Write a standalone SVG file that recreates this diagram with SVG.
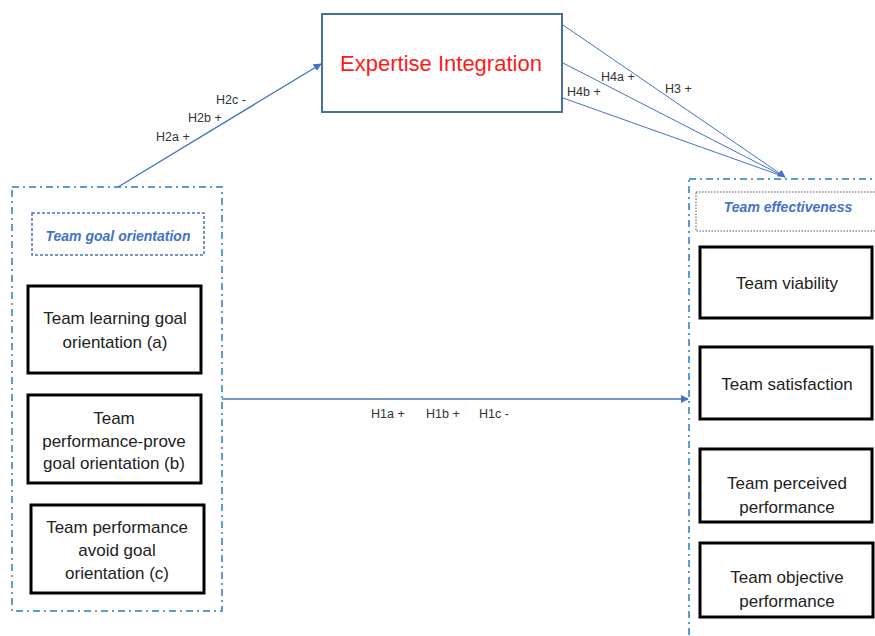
<svg xmlns="http://www.w3.org/2000/svg" width="875" height="636" viewBox="0 0 875 636">
<defs>
<style>
.node{fill:#fff;stroke:#000;stroke-width:3}
.t{font-family:"Liberation Sans",Arial,sans-serif;font-size:17px;fill:#222;text-anchor:middle}
.lbl{font-family:"Liberation Sans",Arial,sans-serif;font-size:12.5px;fill:#333}
.grp{fill:none;stroke:#5b9bd5;stroke-width:2;stroke-dasharray:7 4 2 4}
.hdr{font-family:"Liberation Sans",Arial,sans-serif;font-size:14px;font-weight:bold;font-style:italic;fill:#4472c4;text-anchor:middle}
.c{fill:none;stroke:#4472c4;stroke-width:1.3}
.cthin{fill:none;stroke:#4472c4;stroke-width:1}
</style>
<marker id="ah" viewBox="0 0 10 10" refX="9" refY="5" markerWidth="8" markerHeight="8" markerUnits="userSpaceOnUse" orient="auto">
<path d="M0,0 L10,5 L0,10 z" fill="#4472c4"/>
</marker>
</defs>
<rect width="875" height="636" fill="#fff"/>

<g id="goal-orientation-group">
<rect class="grp" x="12" y="187" width="210" height="424"/>
<rect x="32" y="213" width="172" height="42" fill="none" stroke="#4472c4" stroke-width="1.5" stroke-dasharray="3 2"/>
<text class="hdr" x="118" y="241">Team goal orientation</text>
</g>
<g id="learning">
<rect class="node" x="28" y="286" width="173" height="87"/>
<text class="t" x="115" y="324">Team learning goal</text>
<text class="t" x="115" y="348">orientation (a)</text>
</g>
<g id="prove">
<rect class="node" x="28" y="395" width="173" height="88"/>
<text class="t" x="114" y="424">Team</text>
<text class="t" x="114" y="447">performance-prove</text>
<text class="t" x="114" y="469">goal orientation (b)</text>
</g>
<g id="avoid">
<rect class="node" x="31" y="505" width="173" height="88"/>
<text class="t" x="117" y="533">Team performance</text>
<text class="t" x="117" y="556">avoid goal</text>
<text class="t" x="117" y="579">orientation (c)</text>
</g>

<g id="expertise">
<rect x="322" y="14" width="240" height="98" fill="#fff" stroke="#4a6fa5" stroke-width="2"/>
<text x="441" y="71" font-family="'Liberation Sans',Arial,sans-serif" font-size="22px" fill="#ff1a1a" text-anchor="middle">Expertise Integration</text>
</g>

<g id="effectiveness-group">
<rect class="grp" x="689" y="179" width="200" height="470"/>
<rect x="696" y="192" width="190" height="39" fill="none" stroke="#555" stroke-width="1" stroke-dasharray="1.5 1.5"/>
<text class="hdr" x="788" y="212">Team effectiveness</text>
</g>
<g id="viability">
<rect class="node" x="700" y="247" width="172" height="71"/>
<text class="t" x="787" y="289">Team viability</text>
</g>
<g id="satisfaction">
<rect class="node" x="700" y="347" width="172" height="72"/>
<text class="t" x="787" y="390">Team satisfaction</text>
</g>
<g id="perceived">
<rect class="node" x="700" y="449" width="172" height="73"/>
<text class="t" x="787" y="489">Team perceived</text>
<text class="t" x="787" y="513">performance</text>
</g>
<g id="objective">
<rect class="node" x="700" y="543" width="173" height="74"/>
<text class="t" x="787" y="583">Team objective</text>
<text class="t" x="787" y="607">performance</text>
</g>

<g id="connectors">
<line class="c" x1="118" y1="187" x2="321" y2="64" marker-end="url(#ah)"/>
<line class="cthin" x1="563" y1="25" x2="785" y2="177" marker-end="url(#ah)"/>
<line class="cthin" x1="563" y1="63" x2="785" y2="177"/>
<line class="cthin" x1="563" y1="98" x2="785" y2="177"/>
<line class="c" x1="222" y1="399" x2="688" y2="399" marker-end="url(#ah)"/>
<text class="lbl" x="216" y="104">H2c -</text>
<text class="lbl" x="188" y="122">H2b +</text>
<text class="lbl" x="156" y="141">H2a +</text>
<text class="lbl" x="601" y="81">H4a +</text>
<text class="lbl" x="665" y="93">H3 +</text>
<text class="lbl" x="567" y="96">H4b +</text>
<text class="lbl" x="371" y="418">H1a +</text>
<text class="lbl" x="426" y="418">H1b +</text>
<text class="lbl" x="479" y="418">H1c -</text>
</g>
</svg>
